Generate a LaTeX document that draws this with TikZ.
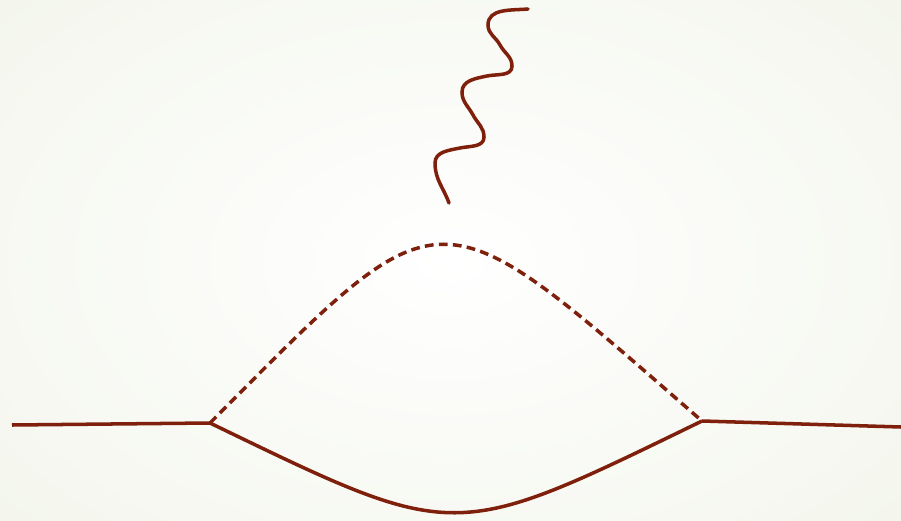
\documentclass[tikz,border=0pt]{standalone}
\usetikzlibrary{calc}
\definecolor{lineRed}{HTML}{7F200C}
\definecolor{bgEdge}{HTML}{F1F4E9}

\begin{document}
\begin{tikzpicture}[x=0.02cm,y=-0.02cm,
  fermion/.style={draw=lineRed,line width=2pt},
  scalar/.style={draw=lineRed,line width=2pt,dash pattern=on 5pt off 3pt},
  photon/.style={draw=lineRed,line width=2pt,line cap=round}
]

% background
\useasboundingbox (0,0) rectangle (901,520);
\clip (0,0) rectangle (901,520);
\shade[inner color=white,outer color=bgEdge] (-300,-220) rectangle (1200,740);

% vertices and external ends
\coordinate (inL)  at (12,425);
\coordinate (vL)   at (210,423);
\coordinate (vR)   at (702,421);
\coordinate (outR) at (901,427);

% photon ends and turning points
\coordinate (ph0) at (449,203);
\coordinate (ph1) at (435,163);
\coordinate (ph2) at (460,148);
\coordinate (ph3) at (484,137);
\coordinate (ph4) at (473,115);
\coordinate (ph5) at (462,92);
\coordinate (ph6) at (487,76);
\coordinate (ph7) at (512,66);
\coordinate (ph8) at (500,45);
\coordinate (ph9) at (488,25);
\coordinate (ph10) at (528,9);

% external fermion legs
\draw[fermion] (inL) -- (vL);
\draw[fermion] (vR) -- (outR);

% loop
\draw[scalar] (vL) .. controls (447,185) and (431,185) .. (vR);
\draw[fermion] (vL) .. controls (458,543) and (451,543) .. (vR);

% emitted photon
\draw[photon] (ph0) to[out=110,in=270] (ph1)
  to[out=90,in=192] (ph2) to[out=12,in=270] (ph3)
  to[out=90,in=298] (ph4) to[out=118,in=270] (ph5)
  to[out=90,in=192] (ph6) to[out=12,in=270] (ph7)
  to[out=90,in=298] (ph8) to[out=118,in=270] (ph9)
  to[out=90,in=185] (ph10);

\end{tikzpicture}
\end{document}
